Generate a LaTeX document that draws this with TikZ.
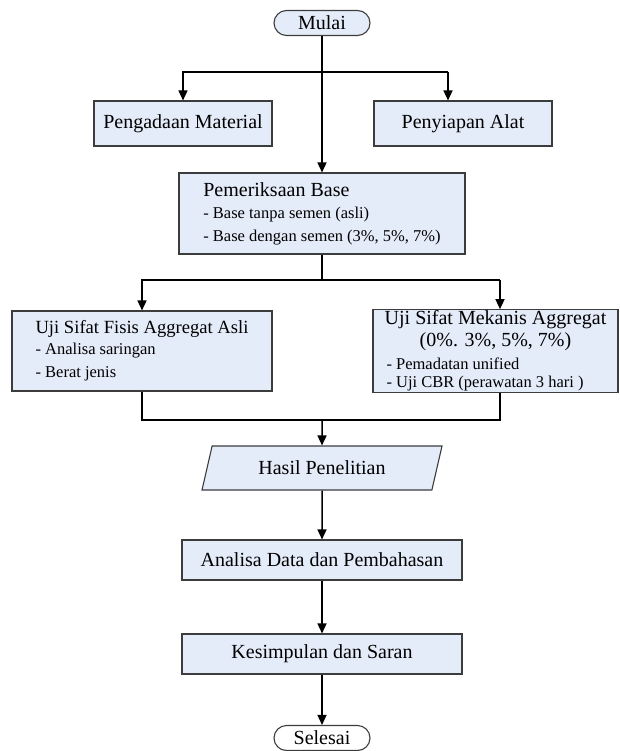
\documentclass[tikz,border=0pt]{standalone}
\usepackage{fontspec}
\setmainfont{Liberation Serif}
\usetikzlibrary{arrows.meta,shapes.misc,shapes.geometric}

\definecolor{boxfill}{RGB}{229,236,249}
\definecolor{boxline}{RGB}{60,60,60}

\newcommand{\judul}{\fontsize{20}{23}\selectfont}
\newcommand{\rinci}{\fontsize{16.5}{20}\selectfont}

\tikzset{
	kotak/.style={draw=boxline, line width=1.1pt, fill=boxfill, inner sep=3pt, font=\judul},
	terminal/.style={rounded rectangle, draw=boxline, line width=1.1pt, minimum width=98pt, minimum height=25pt, inner sep=1pt, font=\judul},
	data/.style={trapezium, trapezium left angle=64, trapezium right angle=116, trapezium stretches body, draw=boxline, line width=1.1pt, fill=boxfill, minimum width=240pt, minimum height=44pt, font=\judul},
	garis/.style={line width=1.5pt},
	panah/.style={line width=1.5pt, -{Triangle[length=10pt,width=9pt]}}
}

\begin{document}
\begin{tikzpicture}[x=1pt,y=-1pt]
			\useasboundingbox (0,0) rectangle (620,751);
			\node[terminal, fill=boxfill] (mulai) at (322,23) {Mulai}; % Start
			\node[kotak, minimum width=178pt, minimum height=45pt] (material) at (183,123.5) {Pengadaan Material};
			\node[kotak, minimum width=178pt, minimum height=45pt] (alat) at (463,123.5) {Penyiapan Alat};
			\node[kotak, minimum width=286pt, minimum height=81pt, align=left] (base) at (322,213.5)
				{\judul Pemeriksaan Base\\[-1pt] \rinci - Base tanpa semen (asli)\\ \rinci - Base dengan semen (3\%, 5\%, 7\%)};
			\node[kotak, minimum width=260pt, minimum height=80pt, align=left] (fisis) at (142,351)
				{\fontsize{18.6}{22}\selectfont Uji Sifat Fisis Aggregat Asli\\[-2pt] \rinci - Analisa saringan\\ \rinci - Berat jenis};
			\node[kotak, minimum width=245pt, minimum height=80pt, inner ysep=1pt, align=center] (mekanis) at (495.5,351)
				{\judul Uji Sifat Mekanis Aggregat\\[-1pt] \judul (0\%. 3\%, 5\%, 7\%)\\[0pt]
				\rinci\makebox[218pt][l]{- Pemadatan unified}\\[-5pt] \rinci\makebox[218pt][l]{- Uji CBR (perawatan 3 hari )}};
			\node[data] (hasil) at (322,468) {Hasil Penelitian}; % Parallelogram
			\node[kotak, minimum width=280pt, minimum height=40pt] (analisa) at (322,560) {Analisa Data dan Pembahasan};
			\node[kotak, minimum width=280pt, minimum height=40pt] (simpulan) at (322,654) {Kesimpulan dan Saran};
			\node[terminal] (selesai) at (322,738) {Selesai}; % End

			% branch points
			\coordinate (cabang1) at (322,72);
			\coordinate (cabang1R) at (448,72);
			\coordinate (cabang2) at (322,280);
			\coordinate (cabang2R) at (500,280);
			\coordinate (gabung) at (322,420);
			\coordinate (gabungR) at (500,420);

			\draw[panah] (mulai.south) -- (base.north);
			\draw[panah] (cabang1) -| (material.north);
			\draw[garis] (cabang1) -- (cabang1R);
			\draw[panah] (cabang1R) -- (cabang1R |- alat.north);
			\draw[garis] (base.south) -- (cabang2);
			\draw[panah] (cabang2) -| (fisis.north);
			\draw[garis] (cabang2) -- (cabang2R);
			\draw[panah] (cabang2R) -- (cabang2R |- mekanis.north);
			\draw[garis] (fisis.south) |- (gabungR) -- (gabungR |- mekanis.south);
			\draw[panah] (gabung) -- (hasil.north);
			\draw[panah] (hasil.south) -- (analisa.north);
			\draw[panah] (analisa.south) -- (simpulan.north);
			\draw[panah] (simpulan.south) -- (selesai.north);
		\end{tikzpicture}
\end{document}
